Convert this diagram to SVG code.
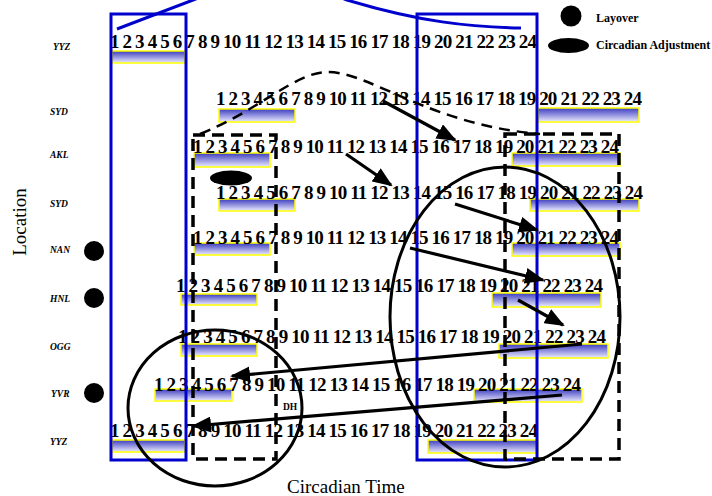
<svg xmlns="http://www.w3.org/2000/svg" width="712" height="496" viewBox="0 0 712 496">
<style>
.num{font-family:"Liberation Serif","Times New Roman",serif;font-weight:bold;font-size:19px;fill:#000}
.loc{font-family:"Liberation Serif","Times New Roman",serif;font-weight:bold;font-style:italic;font-size:9.5px;fill:#000}
.leg{font-family:"Liberation Serif","Times New Roman",serif;font-weight:bold;font-size:12px;fill:#000}
.axis{font-family:"Liberation Serif","Times New Roman",serif;font-size:19px;fill:#000}
.bar{fill:url(#g);stroke:#ffff00;stroke-width:1.5}
.blue{fill:none;stroke:#0000cc;stroke-width:3}
.dash{fill:none;stroke:#000;stroke-width:3.5;stroke-dasharray:12 7}
.ell{fill:none;stroke:#000;stroke-width:3}
.arr{fill:none;stroke:#000;stroke-width:3.2;marker-end:url(#ah)}
</style>
<defs>
<linearGradient id="g" x1="0" y1="0" x2="0" y2="1">
<stop offset="0" stop-color="#3c3cc0"/>
<stop offset="1" stop-color="#ececff"/>
</linearGradient>
<marker id="ah" markerUnits="userSpaceOnUse" markerWidth="20" markerHeight="16" refX="18" refY="8" orient="auto">
<path d="M0,0 L20,8 L0,16 Z" fill="#000"/>
</marker>
</defs>
<rect width="712" height="496" fill="#fff"/>

<g id="legend">
<circle cx="571" cy="16" r="10.5" fill="#000"/>
<text class="leg" x="596" y="22">Layover</text>
<ellipse cx="568.5" cy="45.5" rx="20.5" ry="7.5" fill="#000"/>
<text class="leg" x="596" y="49">Circadian Adjustment</text>
</g>

<g id="axis-labels">
<text class="axis" transform="translate(26,222) rotate(-90)" text-anchor="middle">Location</text>
<text class="axis" x="287" y="493">Circadian Time</text>
</g>

<g id="row1-yyz">
<rect class="bar" x="112" y="51" width="73" height="12"/>
<text class="loc" x="53" y="50">YYZ</text>
<text class="num" x="110" y="48" textLength="427" lengthAdjust="spacing">1 2 3 4 5 6 7 8 9 10 11 12 13 14 15 16 17 18 19 20 21 22 23 24</text>
</g>
<g id="row2-syd">
<rect class="bar" x="219" y="109" width="76" height="13"/>
<rect class="bar" x="538" y="108" width="101" height="14"/>
<text class="loc" x="50" y="115">SYD</text>
<text class="num" x="216" y="105" textLength="426" lengthAdjust="spacing">1 2 3 4 5 6 7 8 9 10 11 12 13 14 15 16 17 18 19 20 21 22 23 24</text>
</g>
<g id="row3-akl">
<rect class="bar" x="194" y="153" width="76" height="14"/>
<rect class="bar" x="512" y="153" width="108" height="13"/>
<text class="loc" x="50" y="158">AKL</text>
<text class="num" x="193" y="153" textLength="426" lengthAdjust="spacing">1 2 3 4 5 6 7 8 9 10 11 12 13 14 15 16 17 18 19 20 21 22 23 24</text>
</g>
<g id="adjustment">
<ellipse cx="231" cy="178" rx="21" ry="7.5" fill="#000"/>
</g>
<g id="row4-syd">
<rect class="bar" x="219" y="199" width="76" height="12"/>
<rect class="bar" x="530" y="199" width="109" height="12"/>
<text class="loc" x="50" y="207">SYD</text>
<text class="num" x="216" y="199" textLength="427" lengthAdjust="spacing">1 2 3 4 5 6 7 8 9 10 11 12 13 14 15 16 17 18 19 20 21 22 23 24</text>
</g>
<g id="row5-nan">
<circle cx="94" cy="251" r="10" fill="#000"/>
<rect class="bar" x="194" y="243" width="76" height="12"/>
<rect class="bar" x="512" y="243" width="108" height="13"/>
<text class="loc" x="50" y="253">NAN</text>
<text class="num" x="193" y="244" textLength="426" lengthAdjust="spacing">1 2 3 4 5 6 7 8 9 10 11 12 13 14 15 16 17 18 19 20 21 22 23 24</text>
</g>
<g id="row6-hnl">
<circle cx="94" cy="298" r="10" fill="#000"/>
<rect class="bar" x="181" y="294" width="76" height="11"/>
<rect class="bar" x="492" y="293" width="109" height="14"/>
<text class="loc" x="50" y="302">HNL</text>
<text class="num" x="176" y="292" textLength="427" lengthAdjust="spacing">1 2 3 4 5 6 7 8 9 10 11 12 13 14 15 16 17 18 19 20 21 22 23 24</text>
</g>
<g id="row7-ogg">
<rect class="bar" x="181" y="344" width="76" height="12"/>
<rect class="bar" x="499" y="344" width="109" height="14"/>
<text class="loc" x="50" y="350">OGG</text>
<text class="num" x="178" y="343" textLength="428" lengthAdjust="spacing">1 2 3 4 5 6 7 8 9 10 11 12 13 14 15 16 17 18 19 20 21 22 23 24</text>
</g>
<g id="row8-yvr">
<circle cx="94" cy="393" r="10" fill="#000"/>
<rect class="bar" x="155" y="389" width="77" height="12"/>
<rect class="bar" x="474" y="389" width="108" height="13"/>
<text class="loc" x="51" y="397">YVR</text>
<text class="num" x="154" y="391" textLength="427" lengthAdjust="spacing">1 2 3 4 5 6 7 8 9 10 11 12 13 14 15 16 17 18 19 20 21 22 23 24</text>
<text class="loc" x="283" y="410" style="font-style:normal">DH</text>
</g>
<g id="row9-yyz">
<rect class="bar" x="112" y="440" width="73" height="12"/>
<rect class="bar" x="428" y="440" width="110" height="13"/>
<text class="loc" x="50" y="445">YYZ</text>
<text class="num" x="110" y="437" textLength="428" lengthAdjust="spacing">1 2 3 4 5 6 7 8 9 10 11 12 13 14 15 16 17 18 19 20 21 22 23 24</text>
</g>

<g id="frames">
<rect class="blue" x="111" y="14" width="75" height="446"/>
<rect class="blue" x="417" y="14" width="120" height="446"/>
<rect class="dash" x="193" y="135" width="83" height="324"/>
<rect class="dash" x="505" y="134" width="114" height="325"/>
</g>

<g id="groups">
<ellipse class="ell" cx="505" cy="317" rx="115" ry="150"/>
<ellipse class="ell" cx="215" cy="408" rx="87" ry="78"/>
</g>

<g id="connectors">
<path class="blue" d="M117,29 L193,0 C250,-22 300,-18 347,0 C420,22 470,27 521,28"/>
<path class="dash" style="stroke-width:2.5;stroke-dasharray:11 7" d="M200,134 C260,110 295,72 328,72 C370,72 430,125 540,134"/>
<line class="arr" x1="383" y1="101" x2="455" y2="140"/>
<line class="arr" x1="346" y1="154" x2="391" y2="185"/>
<line class="arr" x1="455" y1="204" x2="537" y2="230"/>
<line class="arr" x1="410" y1="248" x2="543" y2="280"/>
<line class="arr" x1="518" y1="300" x2="563" y2="325"/>
<line class="arr" x1="582" y1="344" x2="232" y2="376"/>
<line class="arr" x1="562" y1="395" x2="193" y2="426"/>
</g>
</svg>
